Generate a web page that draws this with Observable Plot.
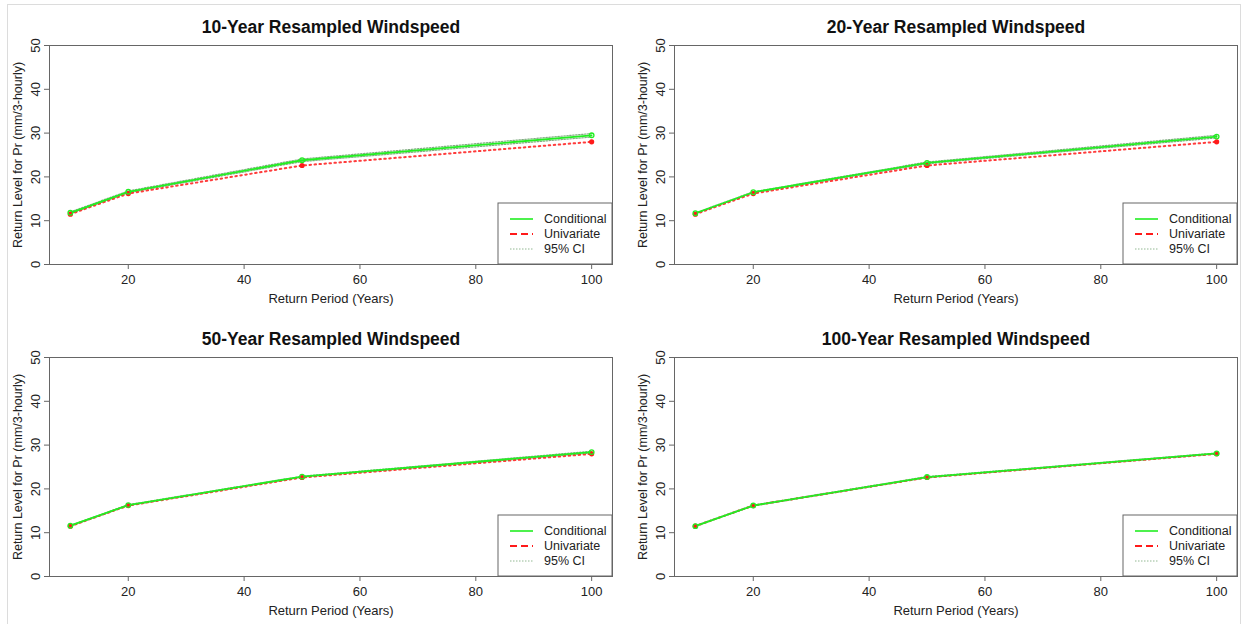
<!DOCTYPE html>
<html>
<head>
<meta charset="utf-8">
<script src="https://cdn.jsdelivr.net/npm/d3@7"></script>
<script src="https://cdn.jsdelivr.net/npm/@observablehq/plot@0.6"></script>
<style>
  body { margin: 0; background: #fff; font-family: "Liberation Sans", Arial, sans-serif; }
  #wrap { position: relative; width: 1244px; height: 624px; overflow: hidden; }
  #border { position: absolute; left: 7px; top: 4px; width: 1234px; height: 630px; border: 1px solid #dcdcdc; box-sizing: border-box; z-index: 5; pointer-events: none; }
  .panel { position: absolute; width: 622px; height: 312px; }
</style>
</head>
<body>
<div id="wrap"><div id="border"></div></div>
<script>
// ---- data ----
const returnPeriods = [10, 20, 50, 100];
const panelTitles = [
  "10-Year Resampled Windspeed",
  "20-Year Resampled Windspeed",
  "50-Year Resampled Windspeed",
  "100-Year Resampled Windspeed"
];
const univariate = [11.5, 16.2, 22.6, 28.0];
const conditional10 = [11.8, 16.6, 23.8, 29.5];
const ciLower10 = [11.6, 16.4, 23.5, 29.1];
const ciUpper10 = [12.0, 16.8, 24.1, 29.9];
const conditional20 = [11.7, 16.5, 23.2, 29.2];
const ciLower20 = [11.6, 16.4, 23.0, 28.9];
const ciUpper20 = [11.8, 16.6, 23.4, 29.5];
const conditional50 = [11.6, 16.3, 22.8, 28.4];
const ciLower50 = [11.5, 16.2, 22.7, 28.2];
const ciUpper50 = [11.7, 16.4, 22.9, 28.6];
const conditional100 = [11.5, 16.2, 22.7, 28.1];
const ciLower100 = [11.5, 16.1, 22.6, 28.0];
const ciUpper100 = [11.6, 16.3, 22.8, 28.2];
const xTicks = [20, 40, 60, 80, 100];
const yTicks = [0, 10, 20, 30, 40, 50];
const legendLabels = ["Conditional", "Univariate", "95% CI"];
const xLabel = "Return Period (Years)";
const yLabel = "Return Level for Pr (mm/3-hourly)";

const panels = [
  {cond: conditional10, lo: ciLower10, hi: ciUpper10},
  {cond: conditional20, lo: ciLower20, hi: ciUpper20},
  {cond: conditional50, lo: ciLower50, hi: ciUpper50},
  {cond: conditional100, lo: ciLower100, hi: ciUpper100}
];

// ---- styles ----
const GREEN = "#22ee22";
const RED = "#ff1a1a";
const CIC = "#4a8a4a";
const AXIS = "#666";
const FONT = "Liberation Sans, Arial, sans-serif";

const W = 622, H = 312;
const mL = 49, mR = 10, mT = 45, mB = 48;
const offsets = [[0, 0], [625, 0], [0, 312], [625, 312]];

panels.forEach((p, i) => {
  const rows = (arr) => returnPeriods.map((x, k) => ({x, y: arr[k]}));
  const cond = rows(p.cond), uni = rows(univariate), lo = rows(p.lo), hi = rows(p.hi);
  const svg = Plot.plot({
    width: W, height: H,
    marginLeft: mL, marginRight: mR, marginTop: mT, marginBottom: mB,
    style: {fontFamily: FONT, fontSize: "13px", color: "#222", background: "transparent", overflow: "visible"},
    x: {domain: [6.4, 103.6], ticks: xTicks},
    y: {domain: [0, 50], ticks: yTicks},
    marks: [
      Plot.frame({stroke: AXIS, strokeWidth: 1}),
      Plot.axisX({ticks: xTicks, tickSize: 5, tickPadding: 5, label: null, stroke: AXIS, fontSize: 13}),
      Plot.axisY({ticks: yTicks, tickSize: 5, label: null, text: null, stroke: AXIS}),
      Plot.text(yTicks, {y: d => d, text: d => String(d), frameAnchor: "left", dx: -14, rotate: -90, textAnchor: "middle", lineAnchor: "middle", fontSize: 13, fill: "#222"}),
      Plot.text([yLabel], {text: d => d, frameAnchor: "left", dx: -32, rotate: -90, textAnchor: "middle", lineAnchor: "middle", fontSize: 12.5, fill: "#222"}),
      Plot.text([xLabel], {text: d => d, frameAnchor: "bottom", dy: 34, lineAnchor: "middle", fontSize: 13, fill: "#222"}),
      Plot.text([panelTitles[i]], {text: d => d, frameAnchor: "top", dy: -18, lineAnchor: "middle", fontSize: 17.5, fontWeight: "bold", fill: "#111"}),
      Plot.line(lo, {x: "x", y: "y", stroke: CIC, strokeWidth: 1.2, strokeDasharray: "1.5,1.5", strokeOpacity: 0.7}),
      Plot.line(hi, {x: "x", y: "y", stroke: CIC, strokeWidth: 1.2, strokeDasharray: "1.5,1.5", strokeOpacity: 0.7}),
      Plot.line(uni, {x: "x", y: "y", stroke: RED, strokeWidth: 2, strokeDasharray: "1.5,3.5", strokeOpacity: 0.85}),
      Plot.line(cond, {x: "x", y: "y", stroke: GREEN, strokeWidth: 1.8}),
      Plot.dot(uni, {x: "x", y: "y", r: 2.6, fill: RED, stroke: "none"}),
      Plot.dot(cond, {x: "x", y: "y", r: 2.3, fill: "none", stroke: GREEN, strokeWidth: 1.3})
    ]
  });
  // legend anchored to the bottom-right corner of the frame
  const g = d3.select(svg).append("g").attr("font-family", FONT).attr("font-size", 12.5).attr("text-anchor", "start");
  const fr = W - mR, fb = H - mB;
  const lw = 114, lh = 61;
  g.append("rect").attr("x", fr - lw).attr("y", fb - lh).attr("width", lw).attr("height", lh)
    .attr("fill", "white").attr("stroke", AXIS).attr("stroke-width", 1);
  const styles = [
    {stroke: GREEN, dash: null, w: 1.6},
    {stroke: RED, dash: "7,4", w: 2.2},
    {stroke: CIC, dash: "1.5,1.5", w: 1}
  ];
  legendLabels.forEach((lab, k) => {
    const yy = fb - lh + 16 + k * 15;
    const ln = g.append("line").attr("x1", fr - lw + 12).attr("x2", fr - lw + 35)
      .attr("y1", yy).attr("y2", yy).attr("stroke", styles[k].stroke).attr("stroke-width", styles[k].w);
    if (styles[k].dash) ln.attr("stroke-dasharray", styles[k].dash);
    if (k === 2) ln.attr("stroke-opacity", 0.6);
    g.append("text").attr("x", fr - lw + 46).attr("y", yy).attr("dy", "0.35em").attr("fill", "#222").text(lab);
  });
  const div = document.createElement("div");
  div.className = "panel";
  div.style.left = offsets[i][0] + "px";
  div.style.top = offsets[i][1] + "px";
  div.appendChild(svg);
  document.getElementById("wrap").appendChild(div);
});
</script>
</body>
</html>
